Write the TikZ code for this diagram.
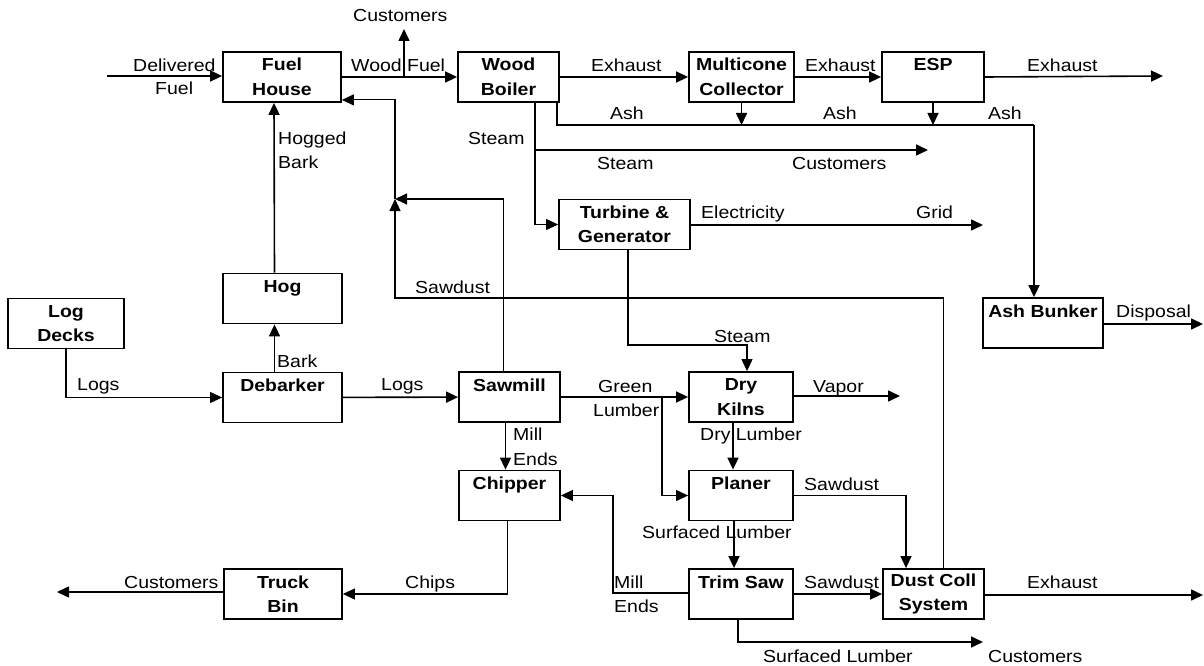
\documentclass[tikz,border=0pt]{standalone}
\usepackage{fontspec}
\setmainfont{Liberation Sans}[FakeStretch=1.12]
\usetikzlibrary{arrows.meta}

\begin{document}
\begin{tikzpicture}[x=1pt,y=-1pt,
  box/.style={draw,line width=1.8pt,inner sep=0pt,minimum height=50pt,align=center,
    font=\fontsize{17.4}{24.5}\selectfont\bfseries},
  flow/.style={line width=1.6pt,-{Triangle[length=12pt,width=11pt]}},
  feed/.style={line width=1.1pt},
  lbl/.style={inner sep=0pt,anchor=base west,font=\fontsize{17.4}{24}\selectfont}]
\useasboundingbox (0,0) rectangle (1204,666);

% Process units
\node[box,minimum width=118pt] (fuel) at (282,77) {Fuel\\House};
\node[box,minimum width=101pt] (boiler) at (508.5,77) {Wood\\Boiler};
\node[box,minimum width=105pt] (multi) at (741.5,77) {Multicone\\Collector};
\node[box,minimum width=102pt] (esp) at (933,77) {ESP\\\mbox{}};
\node[box,minimum width=116pt] (decks) at (66,323.5) {Log\\Decks};
\node[box,minimum width=119pt] (hog) at (282.5,298.5) {Hog\\\mbox{}};
\node[box,minimum width=119pt] (debarker) at (282.5,397.5) {Debarker\\\mbox{}};
\node[box,minimum width=101pt] (sawmill) at (509.5,397) {Sawmill\\\mbox{}};
\node[box,minimum width=101pt] (chipper) at (509.5,495.5) {Chipper\\\mbox{}};
\node[box,minimum width=118pt] (truck) at (283,594) {Truck\\Bin};
\node[box,minimum width=131pt] (turbine) at (624.5,224.5) {Turbine \&\\Generator};
\node[box,minimum width=104pt] (kilns) at (741,397) {Dry\\Kilns};
\node[box,minimum width=104pt] (planer) at (741,495.5) {Planer\\\mbox{}};
\node[box,minimum width=104pt] (trim) at (741,594) {Trim Saw\\\mbox{}};
\node[box,minimum width=101pt] (dust) at (933.5,594) {Dust Coll\\System};
\node[box,minimum width=120pt] (ash) at (1043,323) {Ash Bunker\\\mbox{}};

% Free ends and bends
\coordinate (delfuel) at (107,76);
\coordinate (wfsplit) at (404,77);
\coordinate (wfcust) at (404,29);
\coordinate (exout) at (1163,76);
\coordinate (ashleft) at (557,125);
\coordinate (ashright) at (1034,125);
\coordinate (steamsplit) at (535,150);
\coordinate (steamcust) at (928,150);
\coordinate (grid) at (983,225);
\coordinate (kilnsteam) at (628,345);
\coordinate (sdcorner) at (395,199);
\coordinate (sdlow) at (395,298);
\coordinate (greensplit) at (662,397);
\coordinate (vapor) at (900,396);
\coordinate (millends) at (613,593);
\coordinate (planerdust) at (906,495);
\coordinate (trimout) at (983,642);
\coordinate (truckcust) at (57,592);
\coordinate (dustexh) at (1203,595);
\coordinate (disposal) at (1203,324);

% Fuel and boiler
\draw[flow] (delfuel) -- (delfuel -| fuel.west);
\draw[flow] (fuel) -- (boiler);
\draw[flow] (wfsplit) -- (wfcust);
\draw[flow] (boiler) -- (multi);
\draw[flow] (multi) -- (esp);
\draw[flow] (esp.east) -- (exout);

% Ash
\draw[feed] (boiler.south -| ashleft) -- (ashleft) -- (ashright);
\draw[flow] (ashright) -- (ashright |- ash.north);
\draw[flow] (multi.south) -- (multi.south |- ashleft);
\draw[flow] (esp.south) -- (esp.south |- ashleft);
\draw[flow] (ash.east |- disposal) -- (disposal);

% Steam and power
\draw[feed] (boiler.south -| steamsplit) -- (steamsplit);
\draw[flow,line width=1.1pt] (steamsplit) -- (steamsplit |- turbine.west) -- (turbine.west);
\draw[flow] (steamsplit) -- (steamcust);
\draw[flow] (turbine.east |- grid) -- (grid);
\draw[flow,line width=1.1pt] (turbine.south -| kilnsteam) -- (kilnsteam) -- ([xshift=6pt]kilns.north |- kilnsteam) -- ([xshift=6pt]kilns.north);

% Logs and bark
\draw[flow,line width=1.1pt] (decks.south) |- (debarker.west);
\draw[flow] ([xshift=-8pt]debarker.north) -- ([xshift=-8pt]hog.south);
\draw[flow] ([xshift=-8pt]hog.north) -- ([xshift=-8pt]fuel.south);
\draw[flow] (debarker) -- (sawmill);

% Sawdust back to fuel house
\draw[flow,line width=1.1pt] ([xshift=-6pt]sawmill.north) |- (sdcorner);
\draw[flow,line width=1.1pt] ([xshift=10pt]dust.north) |- (sdlow) -- (sdcorner);
\draw[flow,line width=1.1pt] (sdcorner) |- ([yshift=3pt]fuel.south east);

% Lumber
\draw[flow] (sawmill) -- (kilns);
\draw[flow,line width=1.1pt] (greensplit) |- (planer.west);
\draw[flow] (kilns.east |- vapor) -- (vapor);
\draw[flow] ([xshift=-8pt]kilns.south) -- ([xshift=-8pt]planer.north);
\draw[flow] ([xshift=-7pt]planer.south) -- ([xshift=-7pt]trim.north);
\draw[flow,line width=1.1pt] (planer.east) -| (planerdust) -- (planerdust |- dust.north);
\draw[flow] (trim) -- (dust);
\draw[flow] (dust.east |- dustexh) -- (dustexh);
\draw[flow] ([xshift=-3pt]trim.south) |- (trimout);

% Mill ends and chips
\draw[flow] ([xshift=-4pt]sawmill.south) -- ([xshift=-4pt]chipper.north);
\draw[flow,line width=1.1pt] (trim.west |- millends) -- (millends) |- (chipper.east);
\draw[flow,line width=1.1pt] ([xshift=-2pt]chipper.south) |- (truck.east);
\draw[flow] (truck.west |- truckcust) -- (truckcust);

% Labels
\node[lbl] (tcust) at (353,22) {Customers};
\node[lbl] (tdel) at (133,72) {Delivered};
\node[lbl] (tdelfuel) at (155,95) {Fuel};
\node[lbl] (twood) at (351,72) {Wood Fuel};
\node[lbl] (texh1) at (591,72) {Exhaust};
\node[lbl] (texh2) at (805,72) {Exhaust};
\node[lbl] (texh3) at (1027,72) {Exhaust};
\node[lbl] (tash1) at (610,120) {Ash};
\node[lbl] (tash2) at (823,120) {Ash};
\node[lbl] (tash3) at (988,120) {Ash};
\node[lbl] (tsteam1) at (468,145) {Steam};
\node[lbl] (tsteam2) at (597,169) {Steam};
\node[lbl] (tscust) at (792,169) {Customers};
\node[lbl] (thogged) at (278,145) {Hogged};
\node[lbl] (thbark) at (278,168) {Bark};
\node[lbl] (telec) at (701,218) {Electricity};
\node[lbl] (tgrid) at (916,218) {Grid};
\node[lbl] (tsaw1) at (415,293) {Sawdust};
\node[lbl] (tdisp) at (1116,317) {Disposal};
\node[lbl] (tsteam3) at (714,342) {Steam};
\node[lbl] (tbark) at (277,367) {Bark};
\node[lbl] (tlogs1) at (77,390) {Logs};
\node[lbl] (tlogs2) at (381,390) {Logs};
\node[lbl] (tgreen) at (598,392) {Green};
\node[lbl] (tlumber) at (593,416) {Lumber};
\node[lbl] (tvapor) at (813,392) {Vapor};
\node[lbl] (tdry) at (700,440) {Dry Lumber};
\node[lbl] (tmill1) at (513,440) {Mill};
\node[lbl] (tends1) at (513,465) {Ends};
\node[lbl] (tsaw2) at (804,490) {Sawdust};
\node[lbl] (tsurf1) at (642,538) {Surfaced Lumber};
\node[lbl] (ttcust) at (124,588) {Customers};
\node[lbl] (tchips) at (405,588) {Chips};
\node[lbl] (tmill2) at (614,588) {Mill};
\node[lbl] (tends2) at (614,612) {Ends};
\node[lbl] (tsaw3) at (804,588) {Sawdust};
\node[lbl] (texh4) at (1027,588) {Exhaust};
\node[lbl] (tsurf2) at (763,662) {Surfaced Lumber};
\node[lbl] (tlcust) at (988,662) {Customers};
\end{tikzpicture}
\end{document}
